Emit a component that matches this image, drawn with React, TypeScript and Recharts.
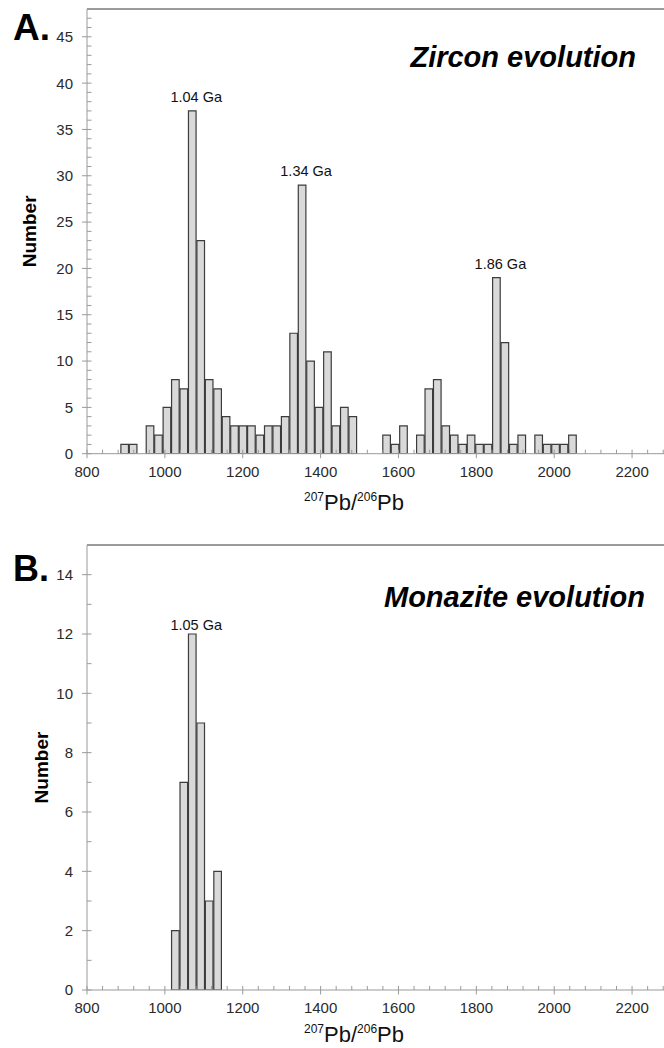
import React from 'react';
import { BarChart, Bar, XAxis, YAxis, LabelList, ReferenceLine } from 'recharts';

const FONT = '"Liberation Sans", Arial, Helvetica, sans-serif';
const AXIS_COLOR = '#9a9a9a';
const FRAME_COLOR = '#7a7a7a';
const TEXT_COLOR = '#2a2a2a';
const BAR_FILL = '#d9d9d9';
const BAR_STROKE = '#3c3c3c';

const PAGE_W = 664;
const PAGE_H = 1048;
const Y_AXIS_W = 87;

// Histogram bins (207Pb/206Pb age, Ma)
const BIN_START = 887;
const BIN_WIDTH = 21.7;

// A. Zircon counts per bin (starting at BIN_START)
const zirconCounts = [
  1, 1, 0,
  3, 2, 5, 8, 7, 37, 23, 8, 7, 4, 3, 3, 3, 2, 3, 3, 4, 13, 29, 10, 5, 11, 3, 5, 4,
  0, 0, 0,
  2, 1, 3,
  0,
  2, 7, 8, 3, 2, 1, 2, 1, 1, 19, 12, 1, 2,
  0,
  2, 1, 1, 1, 2,
];
const zirconPeaks = [
  { bin: 8, label: '1.04 Ga' },
  { bin: 21, label: '1.34 Ga' },
  { bin: 44, label: '1.86 Ga' },
];

// B. Monazite counts (first bin index relative to BIN_START)
const monaziteFirstBin = 6;
const monaziteCounts = [2, 7, 12, 9, 3, 4];
const monazitePeaks = [{ bin: 8, label: '1.05 Ga' }];

// Axes
const X_MIN = 800;
const X_MAX = 2282;
const xMajorTicks = [800, 1000, 1200, 1400, 1600, 1800, 2000, 2200];
const X_MINOR_STEP = 40;

const zirconYMax = 48;
const zirconYMajor = [0, 5, 10, 15, 20, 25, 30, 35, 40, 45];
const monaziteYMax = 15;
const monaziteYMajor = [0, 2, 4, 6, 8, 10, 12, 14];

type Row = { mid: number; count: number; peak: string };

function buildRows(counts: number[], firstBin: number, peaks: { bin: number; label: string }[]): Row[] {
  return counts.map((c, k) => {
    const bin = firstBin + k;
    const p = peaks.find((q) => q.bin === bin);
    return { mid: BIN_START + (bin + 0.5) * BIN_WIDTH, count: c, peak: p ? p.label : '' };
  });
}

const zirconRows = buildRows(zirconCounts, 0, zirconPeaks);
const monaziteRows = buildRows(monaziteCounts, monaziteFirstBin, monazitePeaks);

function XTick(props: any) {
  const { x, y, payload } = props;
  const v = payload.value;
  const major = xMajorTicks.includes(v);
  return (
    <g>
      <line x1={x} x2={x} y1={y - 4} y2={major ? y + 4.5 : y} stroke={AXIS_COLOR} strokeWidth={1} />
      {major && (
        <text x={x} y={y + 23} textAnchor="middle" fontSize={15} fill={TEXT_COLOR} fontFamily={FONT}>
          {v}
        </text>
      )}
    </g>
  );
}

function makeYTick(majors: number[]) {
  return (props: any) => {
    const { x, y, payload } = props;
    const v = payload.value;
    const major = majors.includes(v);
    return (
      <g>
        <line x1={major ? x - 5 : x} x2={x + 4.5} y1={y} y2={y} stroke={AXIS_COLOR} strokeWidth={1} />
        {major && (
          <text x={x - 14} y={y} dy="0.36em" textAnchor="end" fontSize={15} fill={TEXT_COLOR} fontFamily={FONT}>
            {v}
          </text>
        )}
      </g>
    );
  };
}

function makeXTitle(baselineOffset: number) {
  return (props: any) => {
    const vb = props.viewBox || {};
    const cx = vb.x + 267;
    const by = vb.y + baselineOffset;
    return (
      <text x={cx} y={by} textAnchor="middle" fontSize={22} fill="#111" fontFamily={FONT}>
        <tspan fontSize={12} dy={-9}>207</tspan>
        <tspan dy={9}>Pb/</tspan>
        <tspan fontSize={12} dy={-9}>206</tspan>
        <tspan dy={9}>Pb</tspan>
      </text>
    );
  };
}

function makeYTitle(cx: number) {
  return (props: any) => {
    const vb = props.viewBox || {};
    const cy = vb.y + vb.height / 2;
    return (
      <text
        x={cx}
        y={cy}
        dy="0.36em"
        textAnchor="middle"
        fontSize={19}
        fontWeight="bold"
        fill="#000"
        fontFamily={FONT}
        transform={`rotate(-90 ${cx} ${cy})`}
      >
        Number
      </text>
    );
  };
}

function makePeakLabel(gap: number) {
  return (props: any) => {
    const { x, y, width, value } = props;
    if (!value) return null;
    return (
      <text x={x + width / 2 + 4} y={y - gap} textAnchor="middle" fontSize={14.5} fill="#111" fontFamily={FONT}>
        {value}
      </text>
    );
  };
}

type HistProps = {
  rows: Row[];
  yMax: number;
  yMajor: number[];
  height: number;
  marginTop: number;
  xAxisHeight: number;
  xTitleOffset: number;
  yTitleX: number;
  peakGap: number;
};

function Histogram({ rows, yMax, yMajor, height, marginTop, xAxisHeight, xTitleOffset, yTitleX, peakGap }: HistProps) {
  const plotW = PAGE_W - Y_AXIS_W;
  const barSize = (BIN_WIDTH * plotW) / (X_MAX - X_MIN);
  const xTicks: number[] = [];
  for (let t = X_MIN; t <= X_MAX; t += X_MINOR_STEP) xTicks.push(t);
  const yTicks: number[] = [];
  for (let t = 0; t < yMax; t += 1) yTicks.push(t);

  return (
    <BarChart
      width={PAGE_W}
      height={height}
      data={rows}
      margin={{ top: marginTop, right: 0, bottom: 0, left: 0 }}
      barGap={0}
      barCategoryGap={0}
    >
      <XAxis
        dataKey="mid"
        type="number"
        domain={[X_MIN, X_MAX]}
        allowDataOverflow
        ticks={xTicks}
        interval={0}
        tickSize={0}
        tickMargin={0}
        tickLine={false}
        axisLine={{ stroke: AXIS_COLOR, strokeWidth: 1 }}
        height={xAxisHeight}
        tick={(p: any) => <XTick {...p} />}
        label={makeXTitle(xTitleOffset)}
      />
      <YAxis
        type="number"
        domain={[0, yMax]}
        allowDataOverflow
        ticks={yTicks}
        interval={0}
        width={Y_AXIS_W}
        tickSize={0}
        tickMargin={0}
        tickLine={false}
        axisLine={{ stroke: AXIS_COLOR, strokeWidth: 1 }}
        tick={makeYTick(yMajor)}
        label={makeYTitle(yTitleX)}
      />
      <ReferenceLine y={yMax} stroke={FRAME_COLOR} strokeWidth={1.5} ifOverflow="visible" />
      <Bar
        dataKey="count"
        fill={BAR_FILL}
        stroke={BAR_STROKE}
        strokeWidth={1.2}
        barSize={barSize}
        isAnimationActive={false}
      >
        <LabelList dataKey="peak" content={makePeakLabel(peakGap)} />
      </Bar>
    </BarChart>
  );
}

export default function App() {
  return (
    <div
      style={{
        position: 'absolute',
        left: 0,
        top: 0,
        width: PAGE_W,
        height: PAGE_H,
        background: '#fff',
        fontFamily: FONT,
        overflow: 'hidden',
      }}
    >
      <div style={{ position: 'absolute', left: 0, top: 0 }}>
        <Histogram
          rows={zirconRows}
          yMax={zirconYMax}
          yMajor={zirconYMajor}
          height={520}
          marginTop={9}
          xAxisHeight={66.3}
          xTitleOffset={56}
          yTitleX={29}
          peakGap={9}
        />
      </div>
      <div style={{ position: 'absolute', left: 0, top: 520 }}>
        <Histogram
          rows={monaziteRows}
          yMax={monaziteYMax}
          yMajor={monaziteYMajor}
          height={528}
          marginTop={25}
          xAxisHeight={58}
          xTitleOffset={52}
          yTitleX={41}
          peakGap={4}
        />
      </div>
      <svg
        width={PAGE_W}
        height={PAGE_H}
        style={{ position: 'absolute', left: 0, top: 0, pointerEvents: 'none' }}
      >
        <text x={13} y={40} fontSize={37} fontWeight="bold" fill="#000" fontFamily={FONT}>
          A.
        </text>
        <text x={13} y={581} fontSize={36} fontWeight="bold" fill="#000" fontFamily={FONT}>
          B.
        </text>
        <text x={636} y={67} textAnchor="end" fontSize={29} fontWeight="bold" fontStyle="italic" fill="#000" fontFamily={FONT}>
          Zircon evolution
        </text>
        <text x={645} y={607} textAnchor="end" fontSize={29} fontWeight="bold" fontStyle="italic" fill="#000" fontFamily={FONT}>
          Monazite evolution
        </text>
      </svg>
    </div>
  );
}
